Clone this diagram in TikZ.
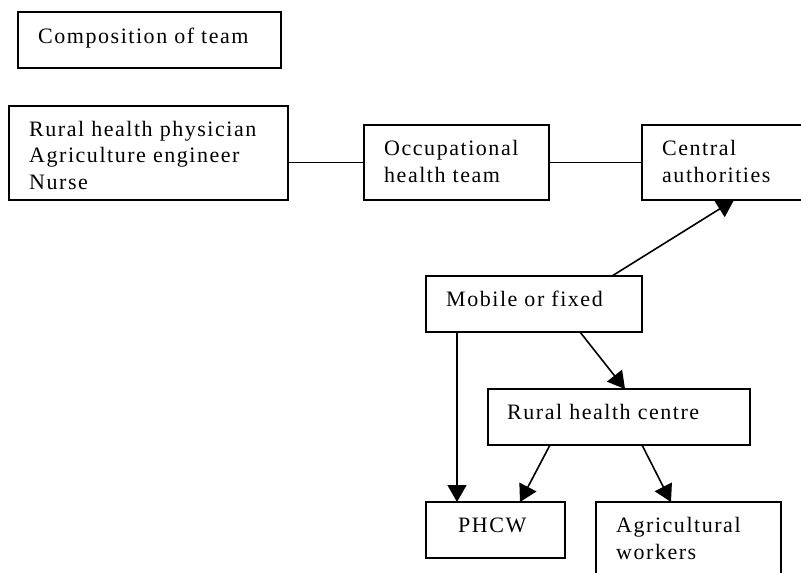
\documentclass[tikz,border=0pt]{standalone}
\usepackage{fontspec}
\setmainfont{Liberation Serif}[LetterSpace=7]
\usetikzlibrary{arrows.meta}
\begin{document}
\begin{tikzpicture}[x=1pt,y=-1pt,
  box/.style={draw, line width=1.6pt, inner sep=0pt, outer sep=0pt, rectangle},
  txt/.style={anchor=base west, inner sep=0pt, font=\fontsize{22}{26.5}\selectfont, align=left},
  link/.style={line width=1.6pt},
  arr/.style={line width=1.6pt, -{Triangle[length=17pt,width=19pt]}}]
\useasboundingbox (0,0) rectangle (801,573);
\clip (0,0) rectangle (801,573);
\fill[white] (0,0) rectangle (801,573);
% boxes
\node[box, minimum width=263pt, minimum height=56pt] (comp) at (149.5,40) {};
\node[box, minimum width=279pt, minimum height=94pt] (crew) at (148.5,153) {};
\node[box, minimum width=185pt, minimum height=75pt] (occ) at (456.5,162.5) {};
\node[box, minimum width=178pt, minimum height=75pt] (cen) at (731,162.5) {};
\node[box, minimum width=216pt, minimum height=56pt] (mob) at (534,304) {};
\node[box, minimum width=262pt, minimum height=56pt] (rhc) at (619,417) {};
\node[box, minimum width=139pt, minimum height=56pt] (phcw) at (495.5,530) {};
\node[box, minimum width=185pt, minimum height=98pt] (agri) at (688.5,551) {};
% texts (base = last line's baseline)
\node[txt] (tcomp) at (38,43) {Composition of team};
\node[txt] (tcrew) at (29,189) {Rural health physician\\Agriculture engineer\\Nurse};
\node[txt] (tocc) at (384,182) {Occupational\\health team};
\node[txt] (tcen) at (662,182) {Central\\authorities};
\node[txt] (tmob) at (446,306) {Mobile or fixed};
\node[txt] (trhc) at (507,419) {Rural health centre};
\node[txt] (tphcw) at (458,532) {PHCW};
\node[txt] (tagri) at (616,559) {Agricultural\\workers};
% connectors
\draw[link] (occ.west -| crew.east) -- (occ.west);
\draw[link] (occ.east) -- (cen.west);
\draw[arr] ([xshift=186pt]mob.north west) -- ([xshift=92pt]cen.south west);
\draw[arr] ([xshift=154pt]mob.south west) -- ([xshift=137pt]rhc.north west);
\draw[arr] ([xshift=31pt]mob.south west) -- ([xshift=31pt]phcw.north west);
\draw[arr] ([xshift=62pt]rhc.south west) -- ([xshift=94pt]phcw.north west);
\draw[arr] ([xshift=154pt]rhc.south west) -- ([xshift=75pt]agri.north west);
\end{tikzpicture}
\end{document}
